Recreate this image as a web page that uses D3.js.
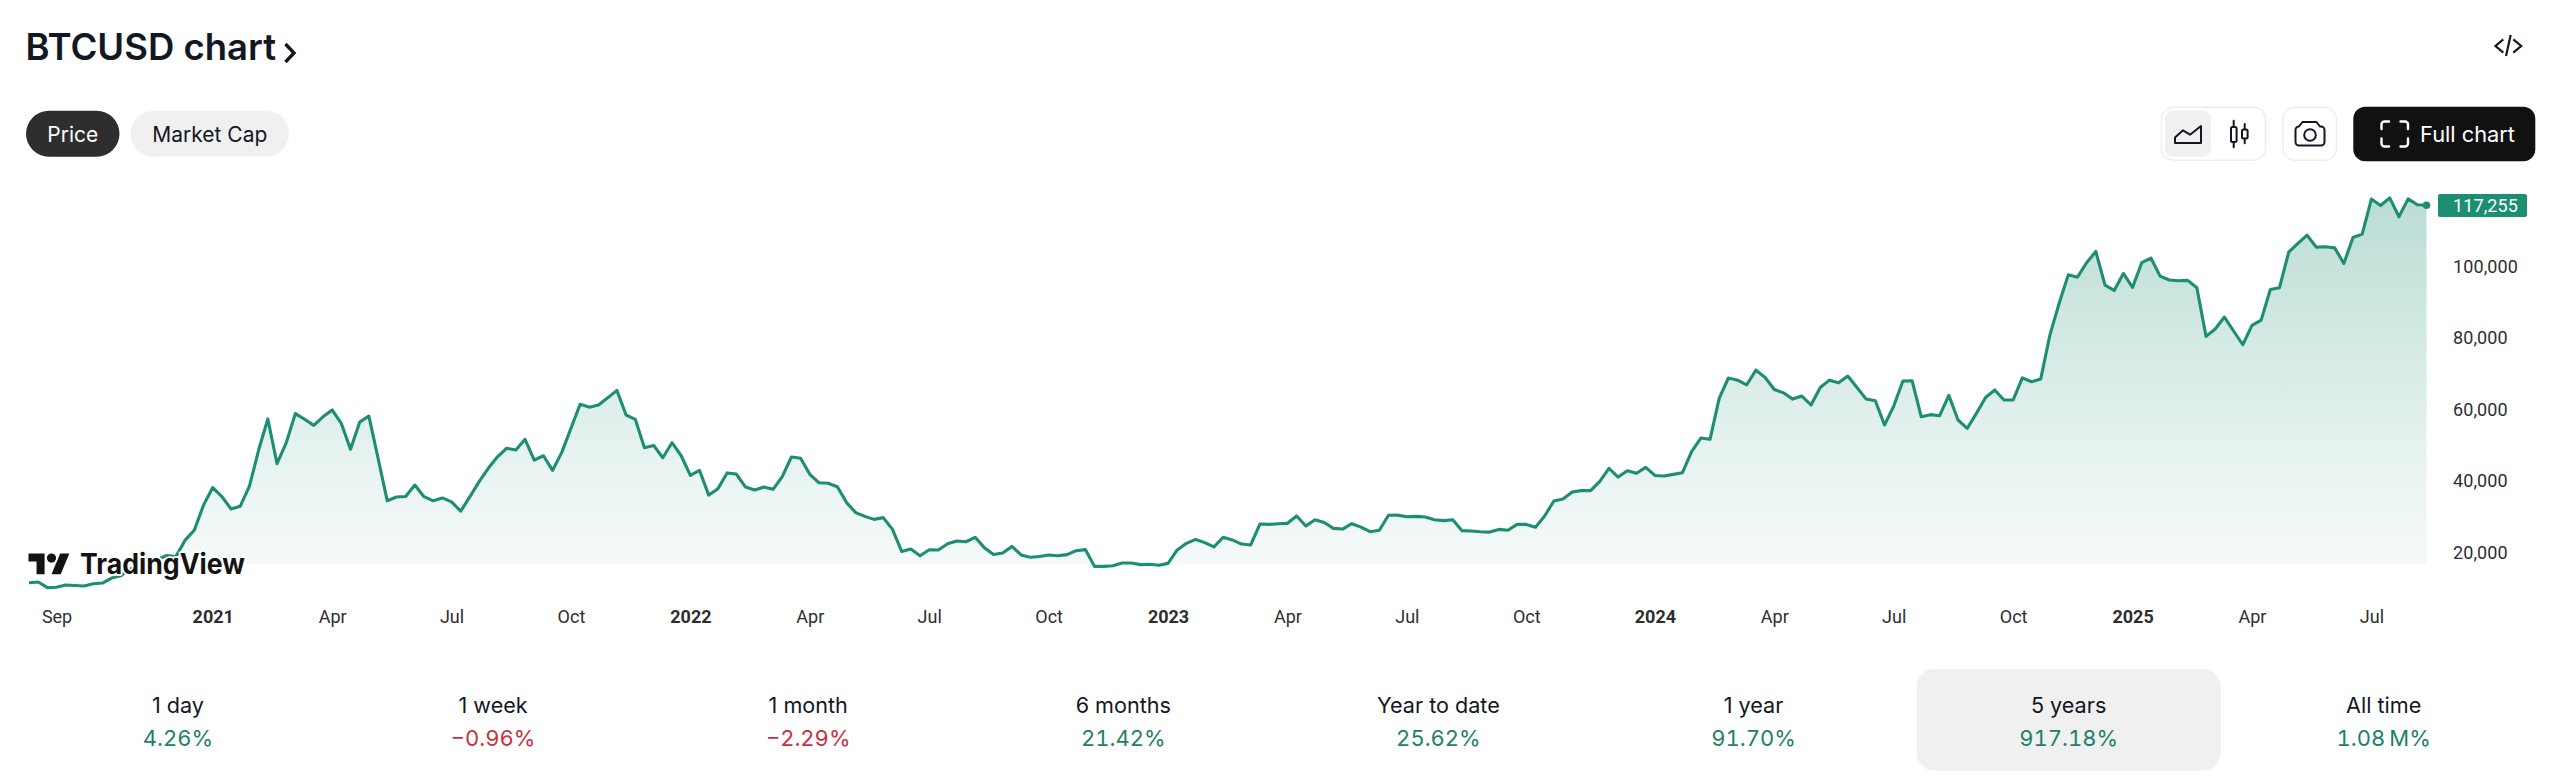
<!DOCTYPE html>
<html>
<head>
<meta charset="utf-8">
<script src="https://cdn.jsdelivr.net/npm/d3@7"></script>
<style>
html,body{margin:0;padding:0;background:#fff;overflow:hidden}
svg{display:block}
</style>
</head>
<body>
<div id="chart"></div>
<script>
const firstWeek = "2020-08-17";
const prices = [
11700,11900,10300,10400,11050,10900,10770,11400,11600,13000,13660,15500,16000,18700,18200,19300,19000,23600,26400,33400,
38300,35750,32300,33100,38700,48800,57500,45000,50800,59000,57400,55700,58100,60000,56250,49000,56600,58300,46500,34600,
35650,35800,39000,35750,34600,35400,34300,31700,35750,39950,43700,46900,49300,48800,51800,46000,47200,43100,48150,54900,
61600,60800,61400,63400,65500,58600,57400,49450,50100,46650,50850,47200,41700,43100,36200,38000,42400,42100,38450,37600,
38450,37800,41350,46850,46500,42000,39650,39500,38550,34100,31300,30250,29400,29900,26600,20450,21100,19250,20900,20850,
22600,23350,23150,24400,21500,19600,20000,21850,19450,18800,19000,19450,19250,19550,20650,20950,16250,16250,16450,17200,
17200,16750,16850,16550,17100,20850,22700,23800,22900,21700,24400,23650,22500,22250,28100,28000,28200,28300,30350,27550,
29300,28550,26900,26700,28200,27250,25950,26350,30550,30600,30150,30250,30050,29300,29050,29300,26250,26150,25950,25850,
26600,26350,28000,28000,27200,30350,34550,35100,37050,37450,37450,40050,43700,41250,43000,42300,43950,41700,41550,42000,
42450,48350,52150,51800,63250,68950,68350,67050,71150,69100,65750,64800,63050,63900,61400,66300,68350,67600,69500,66300,
63050,62600,55800,61100,68100,68200,58100,58700,58400,64100,57200,54850,59050,63500,65600,62800,62800,69000,67900,68650,
80950,89800,97800,97150,101200,104350,94950,93450,98200,94300,101200,102500,97450,96350,96150,96250,94200,80600,82650,86000,
82100,78250,83650,85150,93700,94200,104150,106600,108900,105550,105650,105350,101000,108250,109200,119000,117200,119350,114050,119050,
117400,117255];
const xTickDates = ["2020-09-07","2021-01-04","2021-04-05","2021-07-05","2021-10-04","2022-01-03","2022-04-04","2022-07-04","2022-10-03","2023-01-02","2023-04-03","2023-07-03","2023-10-02","2024-01-08","2024-04-08","2024-07-08","2024-10-07","2025-01-06","2025-04-07","2025-07-07"];
const xTickLabels = ["Sep","2021","Apr","Jul","Oct","2022","Apr","Jul","Oct","2023","Apr","Jul","Oct","2024","Apr","Jul","Oct","2025","Apr","Jul"];
const yTicks = [20000,40000,60000,80000,100000];
const periods = ["1 day","1 week","1 month","6 months","Year to date","1 year","5 years","All time"];
const changes = ["4.26%","\u22120.96%","\u22122.29%","21.42%","25.62%","91.70%","917.18%","1.08\u202FM%"];
const tabs = ["Price","Market Cap"];

const W = 2560, H = 779;
const uiFont = "Inter, 'Noto Sans', sans-serif";
const axisFont = "Roboto, sans-serif";
const teal = "#1e8e73", ink = "#131722";
const svg = d3.select("#chart").append("svg").attr("width", W).attr("height", H).attr("viewBox", `0 0 ${W} ${H}`);
const parse = d3.utcParse("%Y-%m-%d");
const weeks = prices.map((_, i) => d3.utcMonday.offset(parse(firstWeek), i));
const points = weeks.map((d, i) => ({date: d, price: prices[i]}));

const x = d3.scaleUtc().domain([weeks[0], weeks[weeks.length - 1]]).range([29, 2426.5]);
const y = d3.scaleLinear().domain([20000, 100000]).range([553, 267]);
const baseY = 564;

// header
svg.append("text").attr("x", 25.5).attr("y", 60).text("BTCUSD chart")
  .attr("font-family", uiFont).attr("font-size", 36.5).attr("font-weight", 600).attr("fill", ink);
svg.append("path").attr("d", "M285.5 44L294 53L285.5 62").attr("fill", "none").attr("stroke", ink).attr("stroke-width", 3.4);

const tabBoxes = [[26, 93.5, "#2e2e2e", "#ffffff"], [130.5, 158.5, "#f0f0f0", ink]];
tabs.forEach((t, i) => {
  const b = tabBoxes[i];
  svg.append("rect").attr("x", b[0]).attr("y", 110.7).attr("width", b[1]).attr("height", 46).attr("rx", 23).attr("fill", b[2]);
  svg.append("text").attr("x", b[0] + b[1] / 2).attr("y", 142).attr("text-anchor", "middle").text(t)
    .attr("font-family", uiFont).attr("font-size", 21).attr("fill", b[3]);
});

// code icon
svg.append("path").attr("d", "M2503.3 39.3L2495.5 46L2503.3 52.7M2510.7 35L2506 56M2513.3 39.3L2521.2 46L2513.3 52.7")
  .attr("fill", "none").attr("stroke", ink).attr("stroke-width", 2.2);

// toolbar
const toolbar = svg.append("g");
toolbar.append("rect").attr("x", 2161.5).attr("y", 107.2).attr("width", 104).attr("height", 53).attr("rx", 12).attr("fill", "#fff").attr("stroke", "#eeeeee").attr("stroke-width", 1.5);
toolbar.append("rect").attr("x", 2165).attr("y", 110.7).attr("width", 46).attr("height", 46).attr("rx", 8).attr("fill", "#f0f0f0");
toolbar.append("path").attr("d", "M2175 143V137.5L2183 130.3L2190 134.7L2201 126V143Z").attr("fill", "none").attr("stroke", ink).attr("stroke-width", 2).attr("stroke-linejoin", "round");
toolbar.append("path").attr("d", "M2233.7 120.7V127M2233.7 142V147.3M2244.7 124V129.3M2244.7 138.7V143.3").attr("stroke", ink).attr("stroke-width", 2).attr("stroke-linecap", "round");
toolbar.append("rect").attr("x", 2231).attr("y", 127).attr("width", 5.6).attr("height", 15).attr("rx", 1.5).attr("fill", "none").attr("stroke", ink).attr("stroke-width", 2);
toolbar.append("rect").attr("x", 2242).attr("y", 129.5).attr("width", 5.6).attr("height", 9).attr("rx", 1.5).attr("fill", "none").attr("stroke", ink).attr("stroke-width", 2);
toolbar.append("rect").attr("x", 2283).attr("y", 107.2).attr("width", 53.5).attr("height", 53).attr("rx", 12).attr("fill", "#fff").attr("stroke", "#eeeeee").attr("stroke-width", 1.5);
toolbar.append("path").attr("d", "M2299 126.5L2302.5 122H2316.5L2320 126.5H2321A3.5 3.5 0 0 1 2324.5 130V142A3.5 3.5 0 0 1 2321 145.5H2299A3.5 3.5 0 0 1 2295.5 142V130A3.5 3.5 0 0 1 2299 126.5Z").attr("fill", "none").attr("stroke", ink).attr("stroke-width", 2).attr("stroke-linejoin", "round");
toolbar.append("circle").attr("cx", 2310).attr("cy", 135).attr("r", 5.8).attr("fill", "none").attr("stroke", ink).attr("stroke-width", 2);
toolbar.append("rect").attr("x", 2353.3).attr("y", 106.7).attr("width", 182).attr("height", 54.5).attr("rx", 12).attr("fill", "#111111");
toolbar.append("path").attr("d", "M2381.5 129V124.5A3 3 0 0 1 2384.5 121.5H2389M2400.5 121.5H2405A3 3 0 0 1 2408 124.5V129M2408 138.5V143.5A3 3 0 0 1 2405 146.5H2400.5M2389 146.5H2384.5A3 3 0 0 1 2381.5 143.5V138.5")
  .attr("fill", "none").attr("stroke", "#fff").attr("stroke-width", 2.4).attr("stroke-linecap", "round");
toolbar.append("text").attr("x", 2420).attr("y", 142).text("Full chart").attr("font-family", uiFont).attr("font-size", 21.8).attr("fill", "#fff");

// chart
const defs = svg.append("defs");
const grad = defs.append("linearGradient").attr("id", "fillGrad").attr("gradientUnits", "userSpaceOnUse")
  .attr("x1", 0).attr("x2", 0).attr("y1", 205).attr("y2", baseY);
grad.append("stop").attr("offset", 0).attr("stop-color", teal).attr("stop-opacity", 0.3);
grad.append("stop").attr("offset", 0.49).attr("stop-color", teal).attr("stop-opacity", 0.16);
grad.append("stop").attr("offset", 0.77).attr("stop-color", teal).attr("stop-opacity", 0.092);
grad.append("stop").attr("offset", 1).attr("stop-color", teal).attr("stop-opacity", 0.048);
defs.append("clipPath").attr("id", "aboveBase").append("rect").attr("x", 0).attr("y", 0).attr("width", W).attr("height", baseY);

const area = d3.area().x(d => x(d.date)).y0(baseY).y1(d => y(d.price));
const line = d3.line().x(d => x(d.date)).y(d => y(d.price));
svg.append("path").datum(points).attr("d", area).attr("fill", "url(#fillGrad)").attr("clip-path", "url(#aboveBase)");
svg.append("path").datum(points).attr("d", line).attr("fill", "none").attr("stroke", teal).attr("stroke-width", 3.1).attr("stroke-linejoin", "round");
const last = points[points.length - 1];
svg.append("circle").attr("cx", x(last.date)).attr("cy", y(last.price)).attr("r", 3.8).attr("fill", teal);

// y axis
const yAxis = svg.append("g").attr("transform", "translate(2453,0)")
  .call(d3.axisRight(y).tickValues(yTicks).tickSize(0).tickPadding(0).tickFormat(d3.format(",")));
yAxis.select(".domain").remove();
yAxis.selectAll("text").attr("font-family", axisFont).attr("font-size", 18).attr("fill", "#2e2e2e").attr("letter-spacing", 0.1).attr("dy", "0.3em");

// last price badge
svg.append("rect").attr("x", 2438).attr("y", 194).attr("width", 89).attr("height", 23).attr("rx", 2).attr("fill", teal);
svg.append("text").attr("x", 2453).attr("y", 211.5).text(d3.format(",")(last.price))
  .attr("font-family", axisFont).attr("font-size", 18).attr("fill", "#ffffff").attr("letter-spacing", 0.1);

// x axis
const tickDates = xTickDates.map(parse);
const xAxis = svg.append("g").attr("transform", "translate(0,610)")
  .call(d3.axisBottom(x).tickValues(tickDates).tickSize(0).tickPadding(0).tickFormat((d, i) => xTickLabels[i]));
xAxis.select(".domain").remove();
xAxis.selectAll("text").attr("font-family", axisFont).attr("font-size", 18).attr("fill", "#2e2e2e")
  .attr("font-weight", (d, i) => /^\d/.test(xTickLabels[i]) ? 700 : 400);

// TradingView mark
const logo = svg.append("g");
logo.append("g").attr("transform", "translate(28.5,545.4) scale(1.15)")
  .html('<path d="M14 25H7V14H0V7h14v18zM28 25h-8l7.5-18h8L28 25z" fill="#131313" stroke="#fff" stroke-width="3" paint-order="stroke"/><circle cx="20" cy="11" r="4" fill="#131313" stroke="#fff" stroke-width="3" paint-order="stroke"/>');
logo.append("text").attr("x", 80).attr("y", 573.5).text("TradingView")
  .attr("font-family", uiFont).attr("font-size", 28).attr("font-weight", 700).attr("fill", "#131313")
  .attr("stroke", "#fff").attr("stroke-width", 3.5).attr("paint-order", "stroke").attr("stroke-linejoin", "round")
  .attr("textLength", 165).attr("lengthAdjust", "spacingAndGlyphs");

// period row
const cellX = d3.scalePoint().domain(periods).range([178, 2383.7]);
svg.append("rect").attr("x", 1916.7).attr("y", 669).attr("width", 304).attr("height", 101.7).attr("rx", 18).attr("fill", "#f0f0f0");
const cells = svg.selectAll("g.cell").data(periods).join("g").attr("class", "cell");
cells.append("text").attr("x", d => cellX(d)).attr("y", 712.5).attr("text-anchor", "middle").text(d => d)
  .attr("font-family", uiFont).attr("font-size", 21.6).attr("fill", ink);
cells.append("text").attr("x", d => cellX(d)).attr("y", 745.5).attr("text-anchor", "middle").text((d, i) => changes[i])
  .attr("font-family", uiFont).attr("font-size", 22).style("font-variant-numeric", "tabular-nums")
  .attr("fill", (d, i) => changes[i].startsWith("\u2212") ? "#cc2f3c" : "#22806a");
</script>
</body>
</html>
